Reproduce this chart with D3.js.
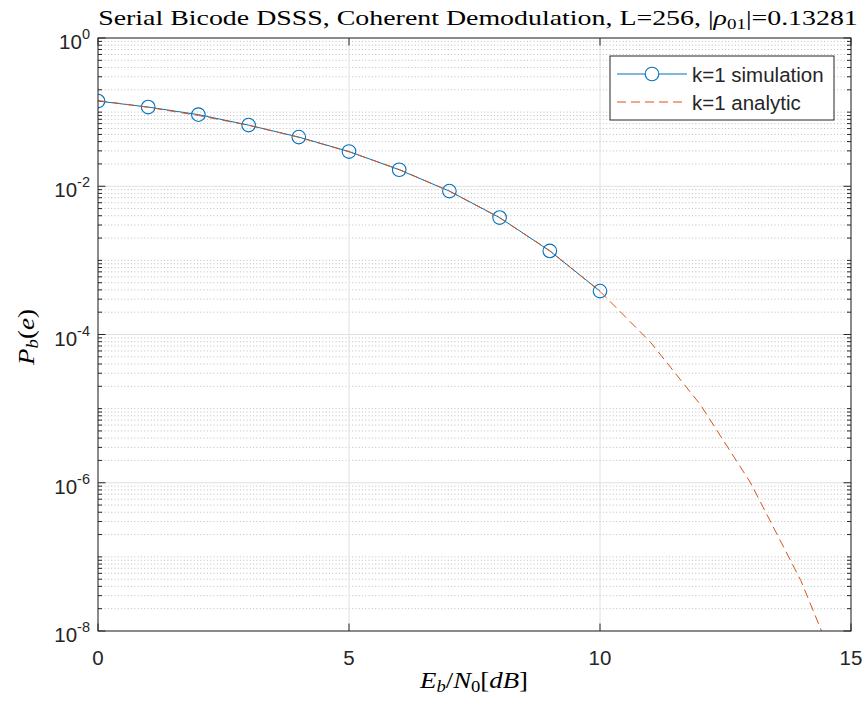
<!DOCTYPE html>
<html>
<head>
<meta charset="utf-8">
<script src="https://cdn.jsdelivr.net/npm/d3@7"></script>
<style>
  html, body { margin: 0; padding: 0; background: #fff; }
  svg { display: block; }
  .tick-label { font-family: "Liberation Sans", Arial, Helvetica, sans-serif; fill: #262626; }
  .serif { font-family: "Liberation Serif", "Times New Roman", "DejaVu Serif", serif; fill: #000; }
</style>
</head>
<body>
<svg id="chart" width="865" height="702"></svg>
<script>
// Eb/N0 sweep in dB
const snrSim = [0, 1, 2, 3, 4, 5, 6, 7, 8, 9, 10];
const berSim = [0.141, 0.117, 0.0925, 0.0668, 0.0460, 0.0294, 0.0167, 0.0086, 0.00378, 0.00134, 0.000385];

const snrAnalytic = [0, 1, 2, 3, 4, 5, 6, 7, 8, 9, 10, 11, 12, 13, 14, 15];
const berAnalytic = [0.1436, 0.1162, 0.0901, 0.0664, 0.0458, 0.0292, 0.01685, 0.00859, 0.00375, 0.00135,
                     3.82e-4, 7.96e-5, 1.13e-5, 9.96e-7, 4.8e-8, 1.08e-9];

const xTicks = [0, 5, 10, 15];
const yMajorExps = [0, -2, -4, -6, -8];

const legendLabels = ["k=1 simulation", "k=1 analytic"];

(function () {
  // ---- layout ----
  const pl = 98, pr = 851, pt = 38, pb = 631;
  const blue = "#0072BD", orange = "#D95319", axisColor = "#262626";

  const svg = d3.select("#chart");
  const x = d3.scaleLinear().domain([0, 15]).range([pl, pr]);
  const y = d3.scaleLog().domain([1e-8, 1]).range([pb, pt]);

  // minor values: every k*10^n that is not a labelled decade
  const minorVals = [];
  for (let e = -8; e < 0; e++) {
    for (let k = 1; k <= 9; k++) {
      if (k === 1 && yMajorExps.includes(e)) continue;
      minorVals.push(k * Math.pow(10, e));
    }
  }
  const majorVals = yMajorExps.map(e => Math.pow(10, e));

  // minor grid (dotted)
  svg.append("g").selectAll("line").data(minorVals).join("line")
    .attr("x1", pl).attr("x2", pr)
    .attr("y1", d => y(d)).attr("y2", d => y(d))
    .attr("stroke", "#adadad").attr("stroke-width", 0.8)
    .attr("stroke-dasharray", "1,2.3");

  // major grid (solid)
  svg.append("g").selectAll("line").data(majorVals).join("line")
    .attr("x1", pl).attr("x2", pr)
    .attr("y1", d => y(d)).attr("y2", d => y(d))
    .attr("stroke", "#e0e0e0").attr("stroke-width", 1);
  svg.append("g").selectAll("line").data(xTicks).join("line")
    .attr("x1", d => x(d)).attr("x2", d => x(d))
    .attr("y1", pt).attr("y2", pb)
    .attr("stroke", "#e0e0e0").attr("stroke-width", 1);

  // clip to the axes box
  svg.append("clipPath").attr("id", "plotClip")
    .append("rect").attr("x", pl).attr("y", pt).attr("width", pr - pl).attr("height", pb - pt);

  const line = d3.line().x(d => x(d[0])).y(d => y(d[1]));
  const plot = svg.append("g").attr("clip-path", "url(#plotClip)");

  // simulation curve with circle markers
  const simPts = snrSim.map((s, i) => [s, berSim[i]]);
  plot.append("path").datum(simPts)
    .attr("d", line).attr("fill", "none").attr("stroke", blue).attr("stroke-width", 1);
  plot.append("g").selectAll("circle").data(simPts).join("circle")
    .attr("cx", d => x(d[0])).attr("cy", d => y(d[1])).attr("r", 6.8)
    .attr("fill", "none").attr("stroke", blue).attr("stroke-width", 1.1);

  // analytic curve, dashed
  const anaPts = snrAnalytic.map((s, i) => [s, berAnalytic[i]]);
  plot.append("path").datum(anaPts)
    .attr("d", line).attr("fill", "none").attr("stroke", orange).attr("stroke-width", 1)
    .attr("stroke-dasharray", "9,5");

  // axes box
  svg.append("rect").attr("x", pl).attr("y", pt).attr("width", pr - pl).attr("height", pb - pt)
    .attr("fill", "none").attr("stroke", axisColor).attr("stroke-width", 1);

  // ticks (inward on all four sides)
  const tk = svg.append("g").attr("stroke", axisColor).attr("stroke-width", 1);
  xTicks.forEach(t => {
    tk.append("line").attr("x1", x(t)).attr("x2", x(t)).attr("y1", pb).attr("y2", pb - 7.5);
    tk.append("line").attr("x1", x(t)).attr("x2", x(t)).attr("y1", pt).attr("y2", pt + 7.5);
  });
  majorVals.forEach(v => {
    tk.append("line").attr("x1", pl).attr("x2", pl + 7.5).attr("y1", y(v)).attr("y2", y(v));
    tk.append("line").attr("x1", pr).attr("x2", pr - 7.5).attr("y1", y(v)).attr("y2", y(v));
  });
  minorVals.forEach(v => {
    tk.append("line").attr("x1", pl).attr("x2", pl + 4).attr("y1", y(v)).attr("y2", y(v));
    tk.append("line").attr("x1", pr).attr("x2", pr - 4).attr("y1", y(v)).attr("y2", y(v));
  });

  // x tick labels
  svg.append("g").selectAll("text").data(xTicks).join("text")
    .attr("class", "tick-label")
    .attr("x", d => x(d)).attr("y", pb + 34)
    .attr("text-anchor", "middle").attr("font-size", 20.5)
    .text(d => d);

  // y tick labels: 10^n
  const yl = svg.append("g");
  yMajorExps.forEach(e => {
    const t = yl.append("text").attr("class", "tick-label")
      .attr("x", pl - 8).attr("y", y(Math.pow(10, e)) + 11)
      .attr("text-anchor", "end").attr("font-size", 20.5);
    t.append("tspan").text("10");
    t.append("tspan").attr("font-size", 14.5).attr("dy", -10).text(String(e));
  });

  // stretch a label horizontally about (cx, baseline) to a target width
  function fitWidth(sel, cx, width, rotate) {
    const w = sel.node().getComputedTextLength();
    const s = width / w;
    sel.attr("x", 0).attr("y", 0);
    sel.attr("transform", rotate
      ? `translate(${cx[0]},${cx[1]}) rotate(-90) scale(${s},1)`
      : `translate(${cx[0]},${cx[1]}) scale(${s},1)`);
  }

  // title
  const title = svg.append("text").attr("class", "serif")
    .attr("text-anchor", "middle").attr("font-size", 22);
  title.append("tspan").text("Serial Bicode DSSS, Coherent Demodulation, L=256, |");
  title.append("tspan").attr("font-style", "italic").text("ρ");
  title.append("tspan").attr("font-size", 15).attr("dy", 4).text("01");
  title.append("tspan").attr("dy", -4).text("|=0.13281");
  fitWidth(title, [478, 25], 760, false);

  // x label: Eb/N0[dB]
  const xl = svg.append("text").attr("class", "serif")
    .attr("text-anchor", "middle").attr("font-size", 23);
  xl.append("tspan").attr("font-style", "italic").text("E");
  xl.append("tspan").attr("font-style", "italic").attr("font-size", 16).attr("dy", 4).text("b");
  xl.append("tspan").attr("dy", -4).text("/");
  xl.append("tspan").attr("font-style", "italic").text("N");
  xl.append("tspan").attr("font-size", 16).attr("dy", 4).text("0");
  xl.append("tspan").attr("dy", -4).text("[");
  xl.append("tspan").attr("font-style", "italic").text("dB");
  xl.append("tspan").text("]");
  fitWidth(xl, [474, 688], 108, false);

  // y label: Pb(e)
  const ylab = svg.append("text").attr("class", "serif")
    .attr("text-anchor", "middle").attr("font-size", 23);
  ylab.append("tspan").attr("font-style", "italic").text("P");
  ylab.append("tspan").attr("font-style", "italic").attr("font-size", 16).attr("dy", 4).text("b");
  ylab.append("tspan").attr("dy", -4).text("(");
  ylab.append("tspan").attr("font-style", "italic").text("e");
  ylab.append("tspan").text(")");
  fitWidth(ylab, [34, 337], 56, true);

  // legend
  const lg = svg.append("g");
  lg.append("rect").attr("x", 610).attr("y", 56).attr("width", 224).attr("height", 64)
    .attr("fill", "#fff").attr("stroke", axisColor).attr("stroke-width", 1);
  const rows = [74, 102];
  lg.append("line").attr("x1", 617).attr("x2", 687).attr("y1", rows[0]).attr("y2", rows[0])
    .attr("stroke", blue).attr("stroke-width", 1);
  lg.append("circle").attr("cx", 652).attr("cy", rows[0]).attr("r", 6.8)
    .attr("fill", "#fff").attr("stroke", blue).attr("stroke-width", 1.1);
  lg.append("line").attr("x1", 617).attr("x2", 687).attr("y1", rows[1]).attr("y2", rows[1])
    .attr("stroke", orange).attr("stroke-width", 1).attr("stroke-dasharray", "9,5");
  lg.selectAll("text.leg").data(legendLabels).join("text")
    .attr("class", "tick-label leg")
    .attr("x", 692).attr("y", (d, i) => rows[i] + 7.5)
    .attr("font-size", 20.5).attr("fill", "#000")
    .text(d => d);
})();
</script>
</body>
</html>
